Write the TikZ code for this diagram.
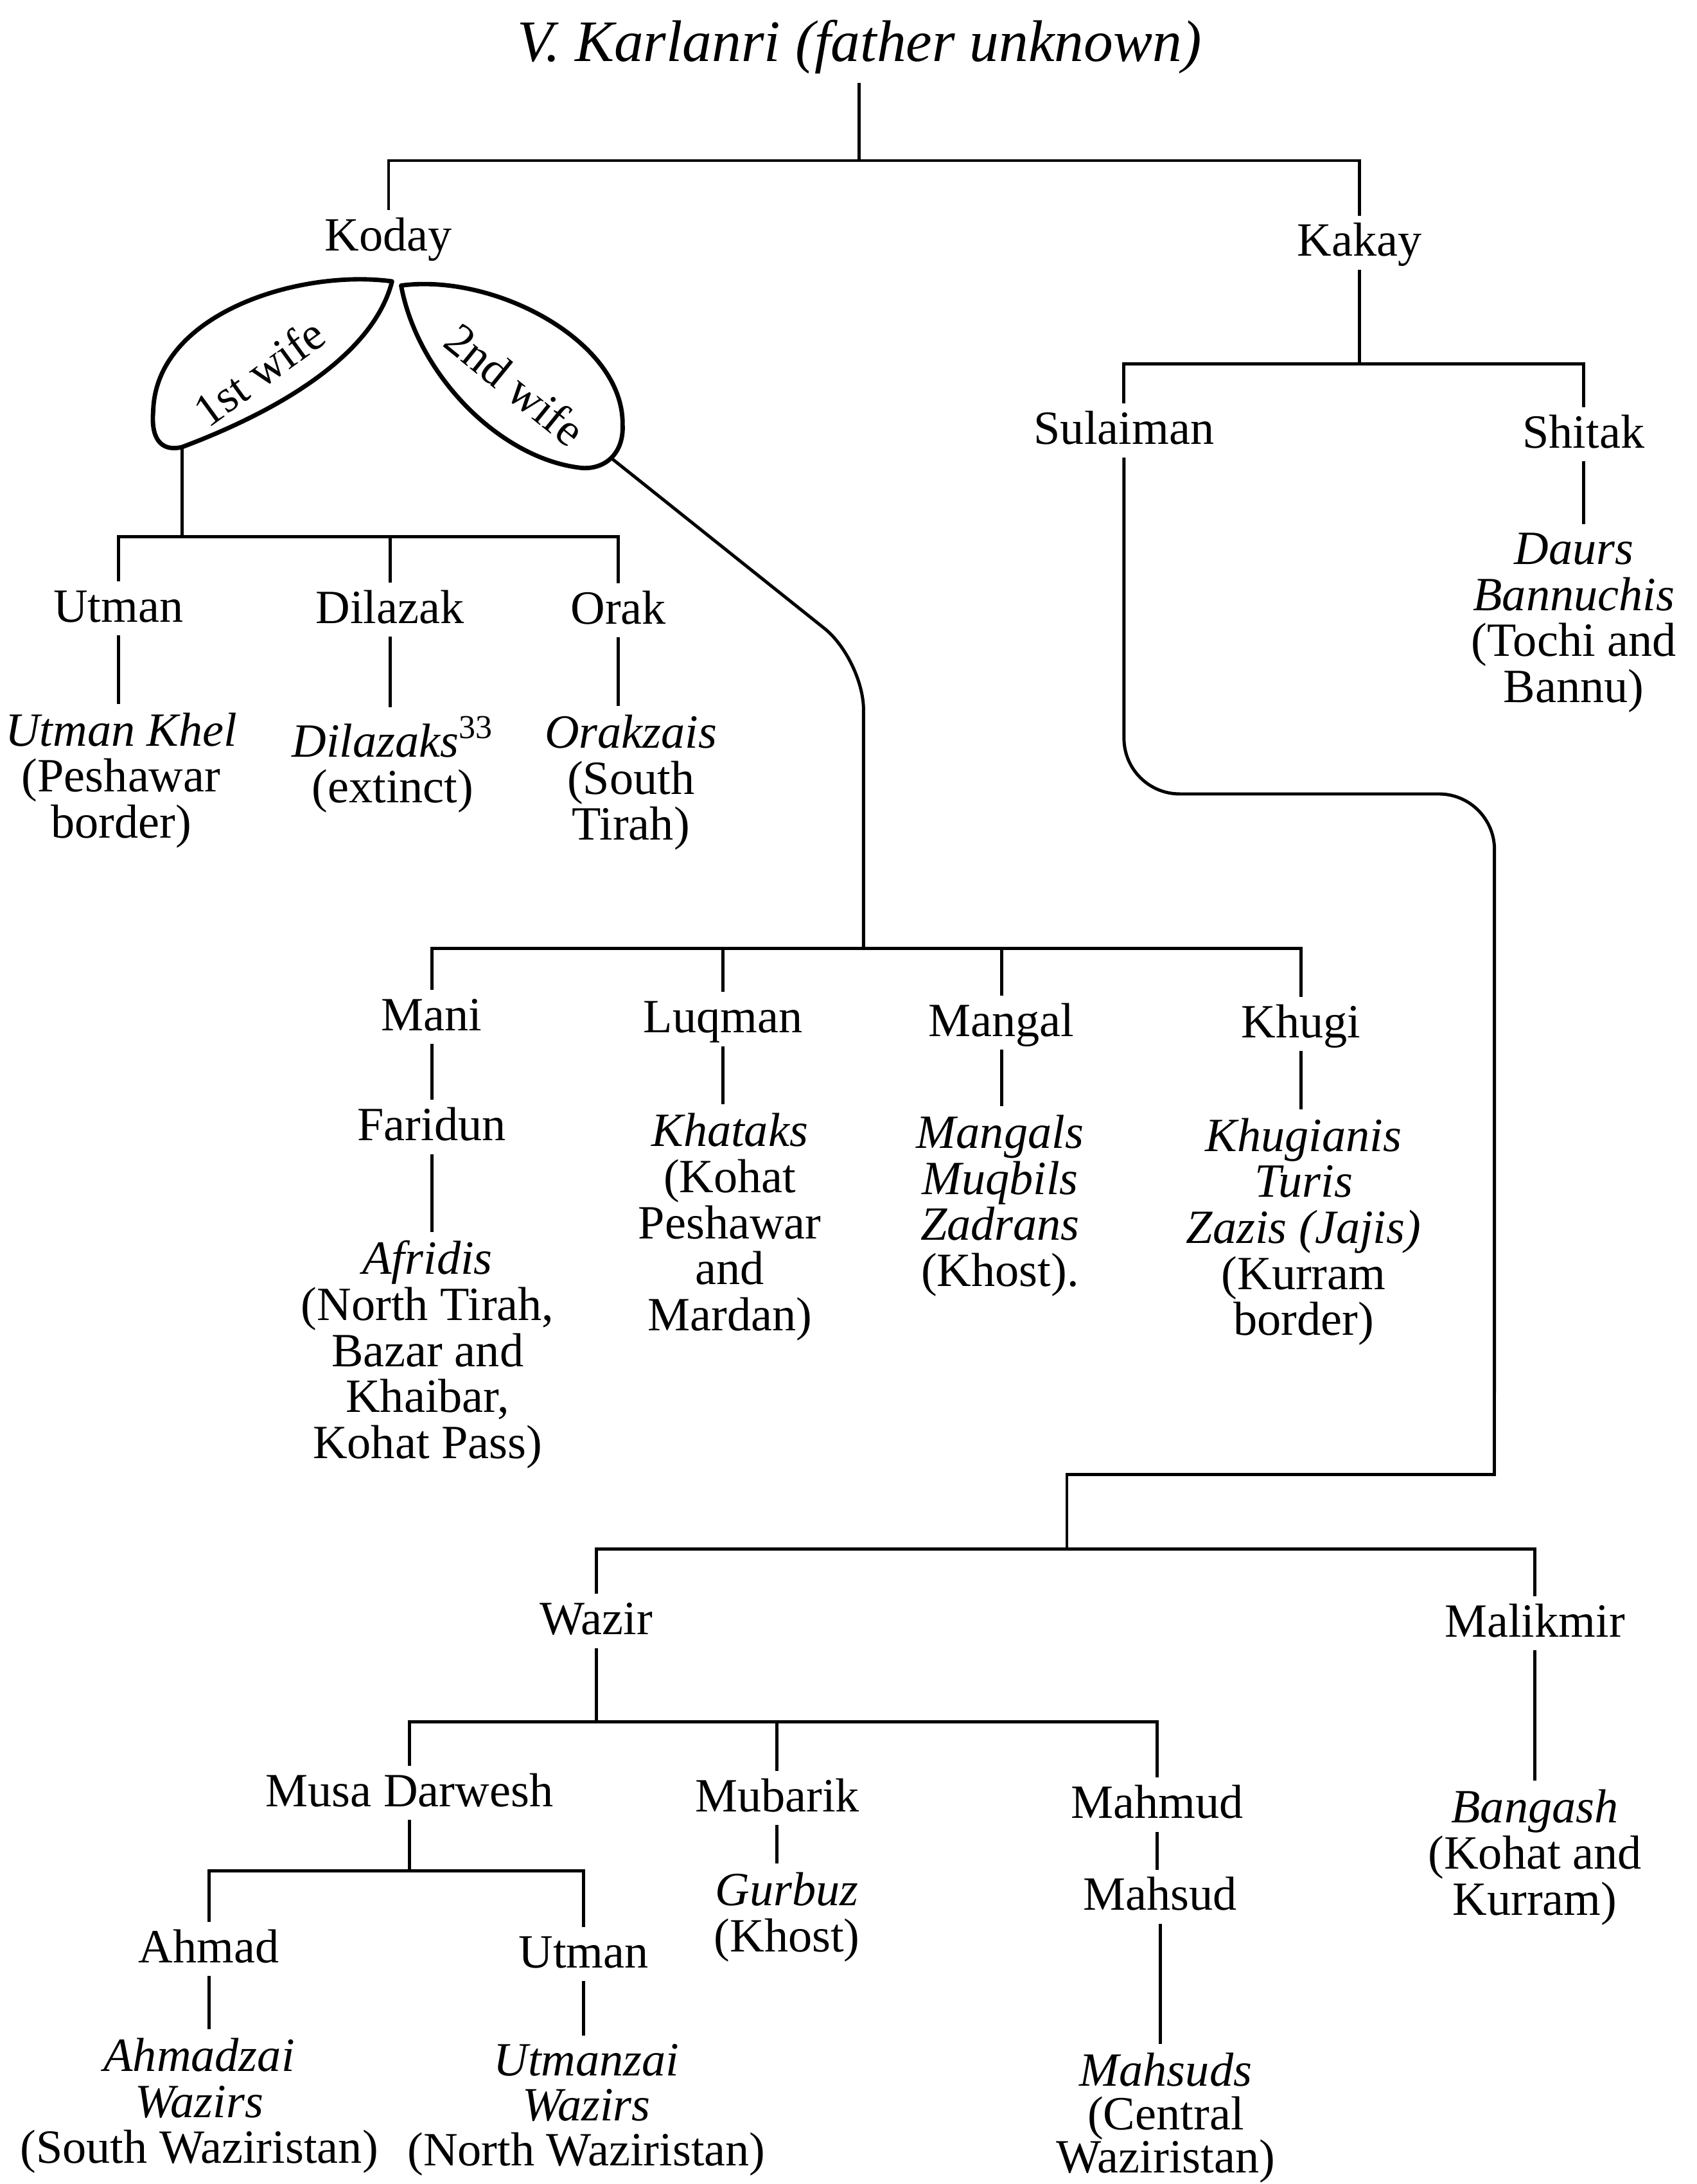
\documentclass[tikz,border=0pt]{standalone}
\usepackage{fontspec}
\setmainfont{Liberation Serif}
\usepackage{tikz}
\tikzset{
    ancestor/.style={
                font=\fontsize{24}{28}\selectfont\itshape,
                anchor=base,
                inner sep=3pt
            },
        person/.style={
                font=\fontsize{19.5}{18.8}\selectfont,
                anchor=base,
                text height=13pt,
                text depth=1.8pt,
                inner sep=3pt
            },
        tribe/.style={
                font=\fontsize{19.5}{18.8}\selectfont,
                anchor=north,
                yshift=16.3pt,
                align=center,
                inner sep=3pt
            },
}

\begin{document}
\begin{tikzpicture}[
    x=0.02cm,
    y=-0.02cm,
    line width=1.3pt,
    wife/.style={
        font=\fontsize{19}{20}\selectfont,
        inner sep=0pt},
    leaf/.style={
        line width=1.8pt,
        line join=round},
  ]
  \useasboundingbox (0,0) rectangle (1218,1568);
  % Bars
  \coordinate (topbar) at (0,115.3);
  \coordinate (kakaybar) at (0,261.3);
  \coordinate (firstbar) at (0,385.2);
  \coordinate (secondbar) at (0,681);
  \coordinate (wazirbar) at (0,1112);
  \coordinate (sonbar) at (0,1236);
  \coordinate (musabar) at (0,1343);
  % Ancestor
  \node[ancestor] (karlanri) at (617,44) {V. Karlanri (father unknown)};
  \node[person] (koday) at (279,180) {Koday};
  \node[person] (kakay) at (976,184) {Kakay};
  \draw (karlanri.south) -- (karlanri.south |- topbar);
  \draw (koday.north) |- (kakay.north |- topbar) -- (kakay.north);
  % Wives of Koday
  \draw[leaf] (281.5,202) .. controls (215,193) and (112,225) .. (110,295)
        .. controls (108,318) and (118,324) .. (130.6,321)
        .. controls (200,295) and (268,255) .. (281.5,202) -- cycle;
  \node[wife, rotate=36] (wifeA) at (186,267) {1st wife};
  \draw[leaf] (288,205) .. controls (355,196) and (448,245) .. (447,305)
        .. controls (448,325) and (435,337) .. (418,336)
        .. controls (360,330) and (300,270) .. (288,205) -- cycle;
  \node[wife, rotate=-39] (wifeB) at (370,276) {2nd wife};
  \coordinate (stemA) at (130.6,321);
  \coordinate (stemB) at (439,329);
  \coordinate (bendB) at (620,473.6);
  % Sons of the first wife
  \node[person] (utman) at (85,446.7) {Utman};
  \node[person] (dilazak) at (280,447.5) {Dilazak};
  \node[person] (orak) at (444,448) {Orak};
  \node[tribe] (utmankhel) at (87,534) {\textit{Utman Khel}\\(Peshawar\\border)};
  \node[tribe] (dilazaks) at (282,536.5) {\textit{Dilazaks}\textsuperscript{33}\\(extinct)};
  \node[tribe] (orakzais) at (453,535.6) {\textit{Orakzais}\\(South\\Tirah)};
  \draw (stemA) -- (stemA |- firstbar);
  \draw (utman.north) |- (orak.north |- firstbar) -- (orak.north);
  \draw (dilazak.north) -- (dilazak.north |- firstbar);
  \draw (utman.south) -- (utman.south |- utmankhel.north);
  \draw (dilazak.south) -- (dilazak.south |- dilazaks.north);
  \draw (orak.south) -- (orak.south |- orakzais.north);
  % Sons of the second wife
  \node[person] (mani) at (310,740) {Mani};
  \node[person] (luqman) at (519,741.5) {Luqman};
  \node[person] (mangal) at (719,744) {Mangal};
  \node[person] (khugi) at (934,745) {Khugi};
  \node[person] (faridun) at (310,819) {Faridun};
  \node[tribe] (afridis) at (307,913) {\textit{Afridis}\\(North Tirah,\\Bazar and\\Khaibar,\\Kohat Pass)};
  \node[tribe] (khataks) at (524,821.6) {\textit{Khataks}\\(Kohat\\Peshawar\\and\\Mardan)};
  \node[tribe] (mangals) at (718,822.8) {\textit{Mangals}\\\textit{Muqbils}\\\textit{Zadrans}\\(Khost).};
  \node[tribe] (khugianis) at (936,825) {\textit{Khugianis}\\\textit{Turis}\\\textit{Zazis (Jajis)}\\(Kurram\\border)};
  \draw[rounded corners=0.72cm] (stemB) -- (bendB) -- (bendB |- secondbar);
  \draw (mani.north) |- (khugi.north |- secondbar) -- (khugi.north);
  \draw (luqman.north) -- (luqman.north |- secondbar);
  \draw (mangal.north) -- (mangal.north |- secondbar);
  \draw (mani.south) -- (mani.south |- faridun.north);
  \draw (faridun.south) -- (faridun.south |- afridis.north);
  \draw (luqman.south) -- (luqman.south |- khataks.north);
  \draw (mangal.south) -- (mangal.south |- mangals.north);
  \draw (khugi.south) -- (khugi.south |- khugianis.north);
  % Sons of Kakay
  \node[person] (sulaiman) at (807,319) {Sulaiman};
  \node[person] (shitak) at (1137,321.5) {Shitak};
  \node[tribe] (daurs) at (1130,405) {\textit{Daurs}\\\textit{Bannuchis}\\(Tochi and\\Bannu)};
  \draw (kakay.south) -- (kakay.south |- kakaybar);
  \draw (sulaiman.north) |- (shitak.north |- kakaybar) -- (shitak.north);
  \draw (shitak.south) -- (shitak.south |- daurs.north);
  % Line of Sulaiman
  \coordinate (turnS) at (1073,570);
  \coordinate (dropS) at (1073,1000);
  \coordinate (joinW) at (766,1058.5);
  \draw[rounded corners=0.8cm] (sulaiman.south) |- (turnS) -- (dropS);
  \draw (dropS) |- (joinW) -- (joinW |- wazirbar);
  % Wazir and Malikmir
  \node[person] (wazir) at (428,1173.6) {Wazir};
  \node[person] (malikmir) at (1102,1175.3) {Malikmir};
  \node[tribe] (bangash) at (1102,1307.2) {\textit{Bangash}\\(Kohat and\\Kurram)};
  \draw (wazir.north) |- (malikmir.north |- wazirbar) -- (malikmir.north);
  \draw (malikmir.south) -- (malikmir.south |- bangash.north);
  % Sons of Wazir
  \node[person] (musa) at (294,1297) {Musa Darwesh};
  \node[person] (mubarik) at (558,1300.8) {Mubarik};
  \node[person] (mahmud) at (831,1305.5) {Mahmud};
  \node[tribe] (gurbuz) at (565,1366.7) {\textit{Gurbuz}\\(Khost)};
  \node[person] (mahsud) at (833,1371.5) {Mahsud};
  \node[tribe, font=\fontsize{19.5}{17.8}\selectfont] (mahsuds) at (837,1496) {\textit{Mahsuds}\\(Central\\Waziristan)};
  \draw (wazir.south) -- (wazir.south |- sonbar);
  \draw (musa.north) |- (mahmud.north |- sonbar) -- (mahmud.north);
  \draw (mubarik.north) -- (mubarik.north |- sonbar);
  \draw (mubarik.south) -- (mubarik.south |- gurbuz.north);
  \draw (mahmud.south) -- (mahmud.south |- mahsud.north);
  \draw (mahsud.south) -- (mahsud.south |- mahsuds.north);
  % Sons of Musa Darwesh
  \node[person] (ahmad) at (150,1409) {Ahmad};
  \node[person] (utmanw) at (419,1412.6) {Utman};
  \node[tribe] (ahmadzai) at (143,1485.6) {\textit{Ahmadzai}\\\textit{Wazirs}\\(South Waziristan)};
  \node[tribe, font=\fontsize{19.5}{18.3}\selectfont] (utmanzai) at (421,1490) {\textit{Utmanzai}\\\textit{Wazirs}\\(North Waziristan)};
  \draw (musa.south) -- (musa.south |- musabar);
  \draw (ahmad.north) |- (utmanw.north |- musabar) -- (utmanw.north);
  \draw (ahmad.south) -- (ahmad.south |- ahmadzai.north);
  \draw (utmanw.south) -- (utmanw.south |- utmanzai.north);
\end{tikzpicture}
\end{document}
